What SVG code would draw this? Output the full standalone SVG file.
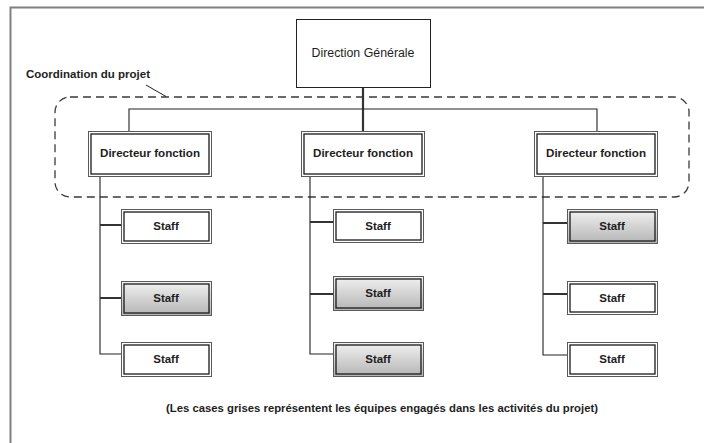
<svg xmlns="http://www.w3.org/2000/svg" width="704" height="443" viewBox="0 0 704 443">
<defs>
<linearGradient id="grey" x1="0" y1="0" x2="0" y2="1">
<stop offset="0" stop-color="#f2f2f2"/>
<stop offset="1" stop-color="#b4b4b4"/>
</linearGradient>
</defs>
<style>
text{font-family:"Liberation Sans",Arial,sans-serif;fill:#1e1e1e;text-anchor:middle}
.b{font-weight:bold;font-size:11.5px}
.outer{fill:none;stroke:#5a5a5a;stroke-width:1}
.inner{fill:none;stroke:#1a1a1a;stroke-width:1.3}
.wf{fill:#fff}
.gf{fill:url(#grey)}
.c{stroke:#222;fill:none;stroke-width:1.1}
.ct{stroke:#333;fill:none;stroke-width:2.2}
</style>
<rect width="704" height="443" fill="#fff"/>
<path d="M10.5 443V7.5H704" fill="none" stroke="#808080" stroke-width="2"/>
<g id="coordination">
<rect x="55" y="97" width="634" height="100" rx="15" fill="none" stroke="#3a3a3a" stroke-width="1.3" stroke-dasharray="8 5"/>
<text x="88" y="78" class="b" style="font-size:10.5px" textLength="124" lengthAdjust="spacingAndGlyphs">Coordination du projet</text>
<line x1="146" y1="85" x2="166" y2="96.5" stroke="#222" stroke-width="1"/>
</g>
<g id="connectors">
<line class="ct" x1="363" y1="87" x2="363" y2="131"/>
<path class="c" d="M129 131V109H597V131"/>
<path class="c" d="M100 176V354H121"/>
<path class="ct" d="M100 225H121M100 298H121"/>
<path class="c" d="M310 176V354H333"/>
<path class="ct" d="M310 222H333M310 294H333"/>
<path class="c" d="M543 176V355H567"/>
<path class="ct" d="M543 223H567M543 294H567"/>
</g>
<g id="dg">
<rect x="296.5" y="19.5" width="134" height="68" fill="#fff" stroke="#222" stroke-width="1"/>
<text x="363" y="57" style="font-size:12px" textLength="103" lengthAdjust="spacingAndGlyphs">Direction Générale</text>
</g>
<g id="dir1">
<rect class="outer wf" x="88.5" y="131.5" width="123" height="45"/>
<rect class="inner" x="91" y="134" width="118" height="40"/>
<text class="b" x="150" y="157" textLength="100" lengthAdjust="spacingAndGlyphs">Directeur fonction</text>
</g>
<g id="dir2">
<rect class="outer wf" x="301.5" y="131.5" width="123" height="45"/>
<rect class="inner" x="304" y="134" width="118" height="40"/>
<text class="b" x="363" y="157" textLength="100" lengthAdjust="spacingAndGlyphs">Directeur fonction</text>
</g>
<g id="dir3">
<rect class="outer wf" x="534.5" y="131.5" width="123" height="45"/>
<rect class="inner" x="537" y="134" width="118" height="40"/>
<text class="b" x="596" y="157" textLength="100" lengthAdjust="spacingAndGlyphs">Directeur fonction</text>
</g>
<g id="s1a"><rect class="outer wf" x="121.5" y="209.5" width="90" height="34"/><rect class="inner" x="124" y="212" width="85" height="29"/><text class="b" x="166" y="230">Staff</text></g>
<g id="s1b"><rect class="outer gf" x="121.5" y="281.5" width="90" height="34"/><rect class="inner" x="124" y="284" width="85" height="29"/><text class="b" x="166" y="302">Staff</text></g>
<g id="s1c"><rect class="outer wf" x="121.5" y="342.5" width="90" height="34"/><rect class="inner" x="124" y="345" width="85" height="29"/><text class="b" x="166" y="363">Staff</text></g>
<g id="s2a"><rect class="outer wf" x="333.5" y="209.5" width="90" height="33"/><rect class="inner" x="336" y="212" width="85" height="28"/><text class="b" x="378" y="230">Staff</text></g>
<g id="s2b"><rect class="outer gf" x="333.5" y="276.5" width="90" height="34"/><rect class="inner" x="336" y="279" width="85" height="29"/><text class="b" x="378" y="297">Staff</text></g>
<g id="s2c"><rect class="outer gf" x="333.5" y="342.5" width="90" height="34"/><rect class="inner" x="336" y="345" width="85" height="29"/><text class="b" x="378" y="363">Staff</text></g>
<g id="s3a"><rect class="outer gf" x="567.5" y="209.5" width="90" height="34"/><rect class="inner" x="570" y="212" width="85" height="29"/><text class="b" x="612" y="230">Staff</text></g>
<g id="s3b"><rect class="outer wf" x="567.5" y="281.5" width="90" height="33"/><rect class="inner" x="570" y="284" width="85" height="28"/><text class="b" x="612" y="302">Staff</text></g>
<g id="s3c"><rect class="outer wf" x="567.5" y="342.5" width="90" height="34"/><rect class="inner" x="570" y="345" width="85" height="29"/><text class="b" x="612" y="363">Staff</text></g>
<text x="382" y="412" class="b" style="font-size:10.5px" textLength="432" lengthAdjust="spacingAndGlyphs">(Les cases grises représentent les équipes engagés dans les activités du projet)</text>
</svg>
